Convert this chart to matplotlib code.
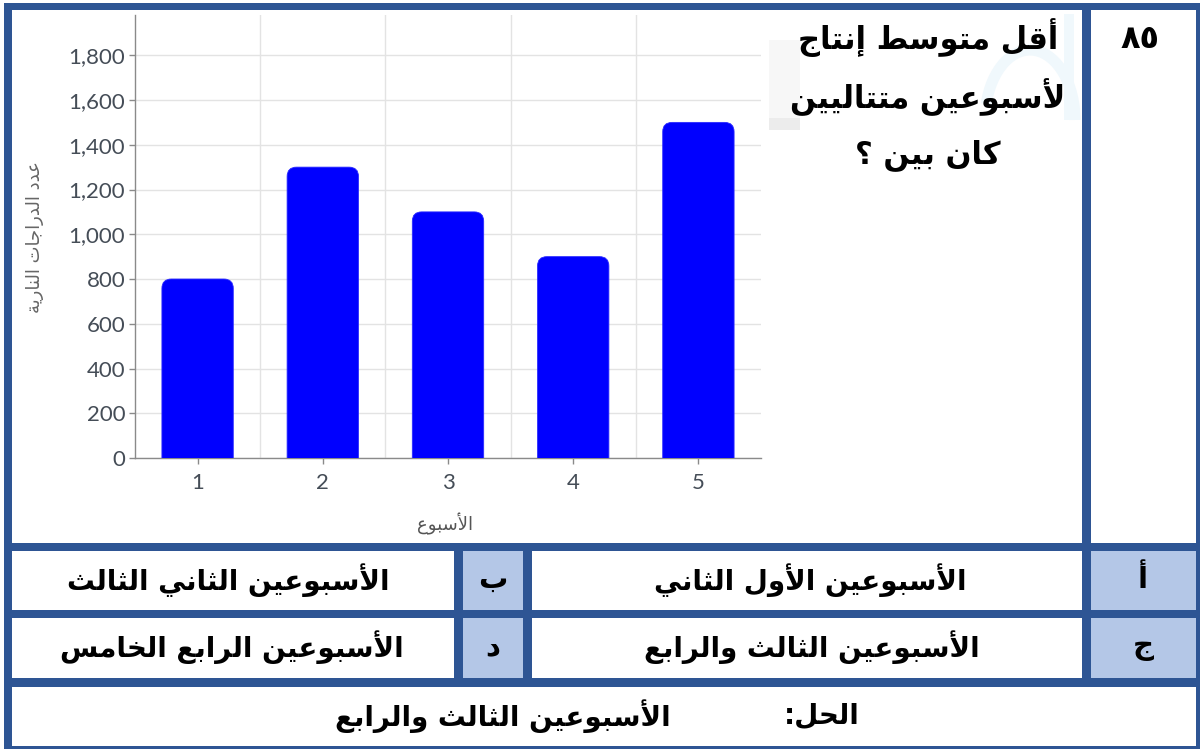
import matplotlib
matplotlib.use('Agg')
import matplotlib.pyplot as plt
from matplotlib.patches import Rectangle, FancyBboxPatch, BoxStyle, Arc
from matplotlib.ticker import FuncFormatter

# weekly motorcycle production
weeks = [1, 2, 3, 4, 5]
bikes = [800, 1300, 1100, 900, 1500]
y_ticks = [0, 200, 400, 600, 800, 1000, 1200, 1400, 1600, 1800]

x_title = "الأسبوع"
y_title = "عدد الدراجات النارية"
q_number = "٨٥"
question = ["أقل متوسط إنتاج", "لأسبوعين متتاليين", "كان بين ؟"]
letters = ["أ", "ب", "ج", "د"]
options = ["الأسبوعين الأول الثاني", "الأسبوعين الثاني الثالث",
           "الأسبوعين الثالث والرابع", "الأسبوعين الرابع الخامس"]
answer_head = "الحل:"
answer = "الأسبوعين الثالث والرابع"

# --- minimal arabic shaping (matplotlib has no complex text layout) ---
FOUR = {'ئ': 0xFE89, 'ب': 0xFE8F, 'ت': 0xFE95, 'ث': 0xFE99, 'ج': 0xFE9D,
        'ح': 0xFEA1, 'خ': 0xFEA5, 'س': 0xFEB1, 'ش': 0xFEB5, 'ص': 0xFEB9,
        'ض': 0xFEBD, 'ط': 0xFEC1, 'ظ': 0xFEC5, 'ع': 0xFEC9, 'غ': 0xFECD,
        'ف': 0xFED1, 'ق': 0xFED5, 'ك': 0xFED9, 'ل': 0xFEDD, 'م': 0xFEE1,
        'ن': 0xFEE5, 'ه': 0xFEE9, 'ي': 0xFEF1}
TWO = {'آ': 0xFE81, 'أ': 0xFE83, 'ؤ': 0xFE85, 'إ': 0xFE87, 'ا': 0xFE8D,
       'ة': 0xFE93, 'د': 0xFEA9, 'ذ': 0xFEAB, 'ر': 0xFEAD, 'ز': 0xFEAF,
       'و': 0xFEED, 'ى': 0xFEEF}
LAMALEF = {'آ': 0xFEF5, 'أ': 0xFEF7, 'إ': 0xFEF9, 'ا': 0xFEFB}


def shape(text):
    units = []
    i = 0
    while i < len(text):
        c = text[i]
        if c == 'ل' and i + 1 < len(text) and text[i + 1] in LAMALEF:
            units.append(('LA', text[i + 1]))
            i += 2
        else:
            units.append(('C', c))
            i += 1

    def to_next(u):
        return u[0] == 'C' and u[1] in FOUR

    def to_prev(u):
        return u[0] == 'LA' or u[1] in FOUR or u[1] in TWO

    out = []
    for k, u in enumerate(units):
        prev = units[k - 1] if k > 0 else None
        nxt = units[k + 1] if k + 1 < len(units) else None
        p = prev is not None and to_next(prev) and to_prev(u)
        n = nxt is not None and to_next(u) and to_prev(nxt)
        if u[0] == 'LA':
            out.append(chr(LAMALEF[u[1]] + (1 if p else 0)))
        elif u[1] in FOUR:
            out.append(chr(FOUR[u[1]] + (3 if p and n else 2 if n else 1 if p else 0)))
        elif u[1] in TWO:
            out.append(chr(TWO[u[1]] + (1 if p else 0)))
        else:
            out.append(u[1])
    return ''.join(reversed(out))


W, H = 1200, 749
BORDER = '#2e5594'
LIGHT = '#b4c7e7'
AR = ['DejaVu Sans']

fig = plt.figure(figsize=(W / 100, H / 100), dpi=100)

# page layer in pixel units
bg = fig.add_axes([0, 0, 1, 1])
bg.set_xlim(0, W)
bg.set_ylim(H, 0)
bg.axis('off')


def box(x0, y0, x1, y1, color):
    bg.add_patch(Rectangle((x0, y0), x1 - x0, y1 - y0, facecolor=color, lw=0))


box(4, 3, W, H, BORDER)
box(12, 10, 1082, 543, 'white')
box(1091, 10, 1196, 543, 'white')
for y0, y1 in [(551, 610), (618, 678)]:
    box(12, y0, 454, y1, 'white')
    box(463, y0, 523, y1, LIGHT)
    box(532, y0, 1082, y1, 'white')
    box(1091, y0, 1196, y1, LIGHT)
box(12, 687, 1196, 746, 'white')

# faint logo watermark behind the question
box(769, 40, 800, 130, '#f7f7f7')
box(769, 118, 800, 130, '#ececec')
bg.add_patch(Arc((1030, 120), 90, 140, theta1=200, theta2=360, color='#f0f8fc', lw=8))
box(1064, 14, 1074, 120, '#f0f8fc')

# question cell
bg.text(1140, 40, q_number, ha='center', va='center', fontsize=23,
        fontweight='bold', family=AR)
for line, yc in zip(question, [38, 97, 155]):
    bg.text(928, yc, shape(line), ha='center', va='center', fontsize=22,
            fontweight='bold', family=AR)

# answer choices
opt_pos = [(1143, 810, 580), (493, 228, 580), (1143, 812, 647), (493, 232, 647)]
for letter, opt, (lx, tx, yc) in zip(letters, options, opt_pos):
    bg.text(lx, yc, shape(letter), ha='center', va='center', fontsize=21,
            fontweight='bold', family=AR)
    bg.text(tx, yc, shape(opt), ha='center', va='center', fontsize=20,
            fontweight='bold', family=AR)

bg.text(822, 716, shape(answer_head), ha='center', va='center', fontsize=20,
        fontweight='bold', family=AR)
bg.text(503, 716, shape(answer), ha='center', va='center', fontsize=20,
        fontweight='bold', family=AR)

# bar chart
left, right, top, bottom = 135, 761, 15, 458
ax = fig.add_axes([left / W, 1 - bottom / H, (right - left) / W, (bottom - top) / H])
ax.set_xlim(0.5, 5.5)
ax.set_ylim(0, 1980)

bars = ax.bar(weeks, bikes, width=0.57, color='#0000ff', zorder=3)
# rounded top corners, square base (bottom corners fall below the axis and are clipped)
aspect = ((right - left) / 5) / ((bottom - top) / 1980)
for b in bars:
    x0, w, h = b.get_x(), b.get_width(), b.get_height()
    b.remove()
    ax.add_patch(FancyBboxPatch((x0, -200), w, h + 200,
                                boxstyle=BoxStyle('Round', pad=0, rounding_size=0.075),
                                mutation_aspect=aspect, facecolor='#0000ff',
                                edgecolor='#2a2aff', lw=0.6, zorder=3))

ax.set_yticks(y_ticks)
ax.yaxis.set_major_formatter(FuncFormatter(lambda v, _: f'{int(v):,}'))
ax.set_xticks(weeks)
ax.set_xticks([1.5, 2.5, 3.5, 4.5], minor=True)
ax.grid(axis='y', color='#e3e3e3', lw=1, zorder=0)
ax.grid(axis='x', which='minor', color='#e3e3e3', lw=1, zorder=0)
ax.tick_params(which='minor', length=0)
ax.tick_params(axis='both', which='major', colors='#8a8a8a', labelcolor='#454d57',
               labelsize=16, length=4, width=1)
ax.tick_params(axis='x', pad=7)
ax.tick_params(axis='y', pad=3)
for lab in ax.get_xticklabels() + ax.get_yticklabels():
    lab.set_family('Lato')
for s in ['top', 'right']:
    ax.spines[s].set_visible(False)
for s in ['left', 'bottom']:
    ax.spines[s].set_color('#8a8a8a')
    ax.spines[s].set_linewidth(1)

bg.text(35, 237, shape(y_title), rotation=90, ha='center', va='center',
        fontsize=13, color='#666666', family=AR)
bg.text(445, 524, shape(x_title), ha='center', va='center',
        fontsize=13, color='#555555', family=AR)

fig.savefig('out.png', dpi=100)
